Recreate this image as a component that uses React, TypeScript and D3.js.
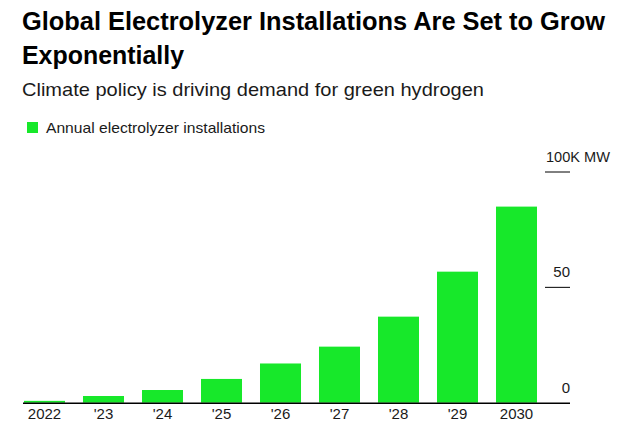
import React from "react";
import * as d3 from "d3";

const categories = ["2022", "'23", "'24", "'25", "'26", "'27", "'28", "'29", "2030"];
const installations = [0.8, 2.9, 5.5, 10.3, 17.0, 24.3, 37.3, 56.8, 85.0];
const yTicks = [0, 50, 100];
const yTickLabels = ["0", "50", "100K MW"];

const W = 634;
const H = 442;
const GREEN = "#17e82a";
const FONT = "'Liberation Sans', Arial, Helvetica, sans-serif";

export default function App() {
  const x = d3.scaleBand<string>().domain(categories).range([24, 537]).paddingInner(0.305).paddingOuter(0);
  const y = d3.scaleLinear().domain([0, 100]).range([402.7, 172]);

  return (
    <svg width={W} height={H} style={{ position: "absolute", left: 0, top: 0, background: "#fff" }} fontFamily={FONT}>
      <rect x={0} y={0} width={W} height={H} fill="#fff" />
      <text x={22} y={30} fontSize={25} fontWeight="bold" fill="#000" textLength={583} lengthAdjust="spacingAndGlyphs">
        Global Electrolyzer Installations Are Set to Grow
      </text>
      <text x={22} y={64} fontSize={25} fontWeight="bold" fill="#000" textLength={162} lengthAdjust="spacingAndGlyphs">
        Exponentially
      </text>
      <text x={22} y={96} fontSize={19} fill="#1a1a1a" textLength={462} lengthAdjust="spacingAndGlyphs">
        Climate policy is driving demand for green hydrogen
      </text>
      <rect x={27} y={122} width={11} height={11} fill={GREEN} />
      <text x={46} y={133} fontSize={15} fill="#1a1a1a" textLength={219} lengthAdjust="spacingAndGlyphs">
        Annual electrolyzer installations
      </text>

      {yTicks.map((t) =>
        t === 0 ? null : (
          <line key={"tl" + t} x1={545} x2={570} y1={y(t)} y2={y(t)} stroke="#000" strokeWidth={1} />
        )
      )}
      {yTicks.map((t, i) =>
        i === yTicks.length - 1 ? (
          <text key={"t" + t} x={546} y={y(t) - 10} fontSize={15} fill="#1a1a1a" textLength={64} lengthAdjust="spacingAndGlyphs">
            {yTickLabels[i]}
          </text>
        ) : (
          <text key={"t" + t} x={570} y={y(t) - 10} fontSize={15} fill="#1a1a1a" textAnchor="end">
            {yTickLabels[i]}
          </text>
        )
      )}

      {categories.map((c, i) => (
        <rect
          key={c}
          x={x(c)}
          y={y(installations[i])}
          width={x.bandwidth()}
          height={y(0) - y(installations[i])}
          fill={GREEN}
        />
      ))}

      <line x1={23} x2={570} y1={y(0) + 0.5} y2={y(0) + 0.5} stroke="#000" strokeWidth={1.5} />

      {categories.map((c) => (
        <text key={"x" + c} x={(x(c) as number) + x.bandwidth() / 2} y={419} fontSize={15} fill="#1a1a1a" textAnchor="middle">
          {c}
        </text>
      ))}
    </svg>
  );
}
